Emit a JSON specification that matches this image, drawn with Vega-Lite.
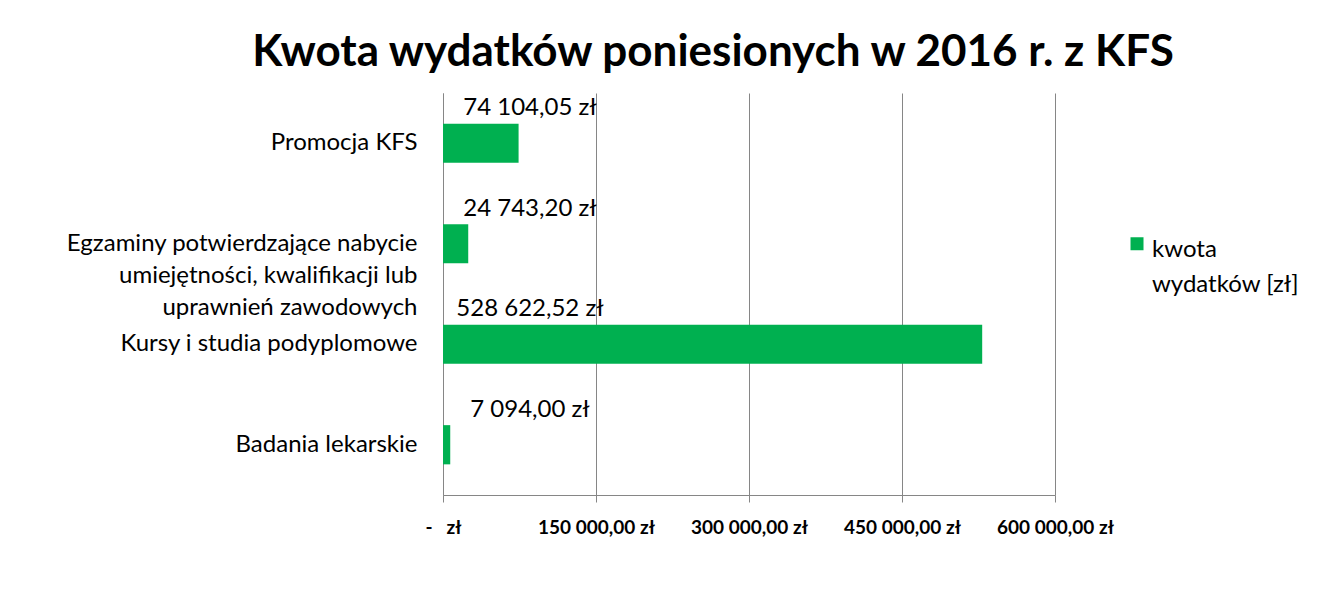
{
  "$schema": "https://vega.github.io/schema/vega-lite/v6.json",
  "autosize": "none",
  "width": 612,
  "height": 402,
  "padding": {"left": 443, "top": 93, "right": 286, "bottom": 97},
  "background": "white",
  "title": {
    "text": "Kwota wydatków poniesionych w 2016 r. z KFS",
    "anchor": "middle",
    "dx": -36,
    "font": "Lato",
    "fontSize": 44,
    "fontWeight": "bold",
    "color": "#000000",
    "offset": 18
  },
  "config": {
    "view": {"stroke": null}
  },
  "data": {
    "values": [
      {"kategoria": "Promocja KFS", "kwota": 74104.05, "etykieta": "74 104,05 zł"},
      {"kategoria": "Egzaminy potwierdzające nabycie umiejętności, kwalifikacji lub uprawnień zawodowych", "kwota": 24743.20, "etykieta": "24 743,20 zł"},
      {"kategoria": "Kursy i studia podyplomowe", "kwota": 528622.52, "etykieta": "528 622,52 zł"},
      {"kategoria": "Badania lekarskie", "kwota": 7094.00, "etykieta": "7 094,00 zł"}
    ]
  },
  "layer": [
    {
      "mark": {"type": "bar", "color": "#00B050"},
      "encoding": {
        "y": {
          "field": "kategoria",
          "type": "nominal",
          "sort": null,
          "title": null,
          "scale": {"paddingInner": 0.61, "paddingOuter": 0.305},
          "axis": {
            "domainColor": "#868686",
            "ticks": false,
            "labelFont": "Lato",
            "labelFontSize": 24,
            "labelColor": "#000000",
            "labelLimit": 500,
            "labelAlign": "right",
            "labelPadding": 26,
            "labelLineHeight": 32,
            "labelExpr": "indexof(datum.value, 'Egzaminy') == 0 ? ['Egzaminy potwierdzające nabycie', 'umiejętności, kwalifikacji lub\u00a0\u00a0\u00a0\u00a0\u00a0\u00a0\u00a0', 'uprawnień zawodowych\u00a0\u00a0\u00a0\u00a0\u00a0\u00a0\u00a0\u00a0\u00a0\u00a0\u00a0\u00a0\u00a0\u00a0\u00a0\u00a0'] : datum.label"
          }
        },
        "x": {
          "field": "kwota",
          "type": "quantitative",
          "title": null,
          "scale": {"domain": [0, 600000], "nice": false},
          "axis": {
            "values": [0, 150000, 300000, 450000, 600000],
            "domainColor": "#868686",
            "tickColor": "#868686",
            "gridColor": "#868686",
            "grid": true,
            "tickSize": 7,
            "labelFont": "Lato",
            "labelFontSize": 19,
            "labelFontWeight": "bold",
            "labelColor": "#000000",
            "labelPadding": 16,
            "labelFlush": false,
            "labelExpr": "datum.value == 0 ? '-\u00a0\u00a0\u00a0zł' : replace(replace(format(datum.value, ',.2f'), ',', ' '), '.', ',') + ' zł'"
          }
        }
      }
    },
    {
      "mark": {"type": "text", "align": "center", "baseline": "alphabetic", "dx": 87, "dy": -28, "font": "Lato", "fontSize": 24, "color": "#000000"},
      "encoding": {
        "y": {"field": "kategoria", "type": "nominal", "sort": null},
        "x": {"datum": 0, "type": "quantitative"},
        "text": {"field": "etykieta", "type": "nominal"}
      }
    },
    {
      "data": {"values": [{"seria": "kwota wydatków [zł]"}]},
      "mark": {"type": "square", "size": 169, "color": "#00B050", "opacity": 1, "dy": 5},
      "encoding": {
        "y": {"datum": "Egzaminy potwierdzające nabycie umiejętności, kwalifikacji lub uprawnień zawodowych", "type": "nominal"},
        "x": {"datum": 680400, "type": "quantitative"}
      }
    },
    {
      "data": {"values": [{"seria": "kwota wydatków [zł]"}]},
      "mark": {"type": "text", "align": "left", "baseline": "alphabetic", "dx": 15, "dy": 13, "lineHeight": 35, "font": "Lato", "fontSize": 24, "fontWeight": "normal", "color": "#000000", "text": ["kwota", "wydatków [zł]"]},
      "encoding": {
        "y": {"datum": "Egzaminy potwierdzające nabycie umiejętności, kwalifikacji lub uprawnień zawodowych", "type": "nominal"},
        "x": {"datum": 680400, "type": "quantitative"}
      }
    }
  ]
}
